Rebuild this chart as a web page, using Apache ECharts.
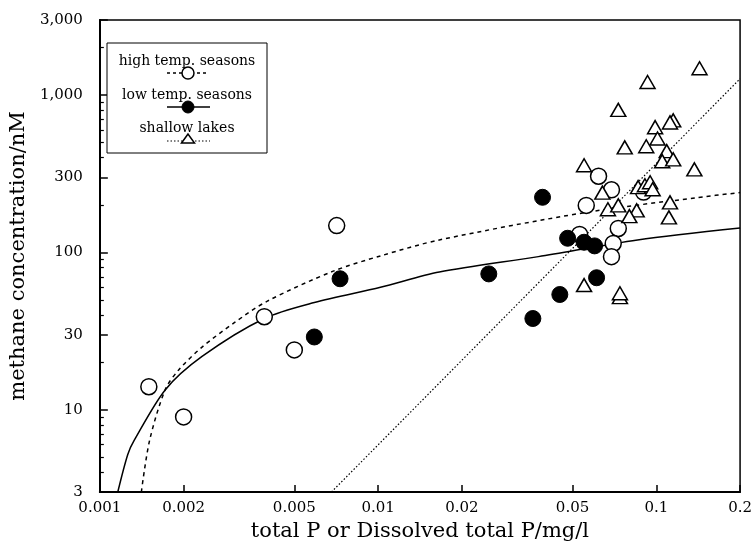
<!DOCTYPE html>
<html>
<head>
<meta charset="UTF-8">
<title>methane vs P</title>
<script src="https://cdn.jsdelivr.net/npm/echarts@6/dist/echarts.min.js"></script>
<style>
  html, body { margin: 0; padding: 0; background: #fff; }
  #main { width: 755px; height: 548px; }
</style>
</head>
<body>
<div id="main"></div>
<script>
  // axis ticks
  var xTicks = [0.001, 0.002, 0.005, 0.01, 0.02, 0.05, 0.1, 0.2];
  var xTickLabels = ['0.001', '0.002', '0.005', '0.01', '0.02', '0.05', '0.1', '0.2'];
  var yTicks = [3, 10, 30, 100, 300, 1000, 3000];
  var yTickLabels = ['3', '10', '30', '100', '300', '1,000', '3,000'];
  var yMinorTicks = [4, 5, 6, 7, 8, 9, 20, 40, 50, 60, 70, 80, 90, 200, 400, 500, 600, 700, 800, 900, 2000];

  // [total P mg/l, methane nM]
  var highTemp = [
    [0.0015, 14], [0.002, 9], [0.0039, 39], [0.005, 24], [0.0071, 148],
    [0.056, 199], [0.062, 305], [0.069, 250], [0.053, 130], [0.073, 142],
    [0.070, 114], [0.069, 94], [0.090, 242]
  ];
  var lowTemp = [
    [0.0059, 29], [0.0073, 68], [0.025, 73], [0.036, 38], [0.039, 224],
    [0.045, 54], [0.048, 123], [0.055, 116], [0.060, 110], [0.061, 69]
  ];
  var shallowLakes = [
    [0.143, 1480], [0.093, 1210], [0.073, 805], [0.115, 690], [0.112, 670],
    [0.099, 625], [0.101, 530], [0.077, 465], [0.092, 473], [0.109, 440],
    [0.105, 380], [0.115, 390], [0.137, 337], [0.055, 358], [0.064, 240],
    [0.067, 188], [0.073, 199], [0.086, 260], [0.091, 267], [0.095, 279],
    [0.097, 252], [0.085, 185], [0.080, 170], [0.112, 208], [0.111, 167],
    [0.055, 62], [0.074, 52], [0.074, 55]
  ];

  // fitted curves
  var highTempFit = [
    [0.00141, 3], [0.00151, 6.4], [0.00172, 13.5], [0.00192, 17.9], [0.00233, 25],
    [0.00306, 36], [0.0040, 49], [0.0069, 76], [0.0102, 95], [0.0166, 120],
    [0.0553, 179], [0.14, 223], [0.2, 240]
  ];
  var lowTempFit = [
    [0.00116, 3], [0.00126, 5.2], [0.00133, 6.4], [0.00172, 13.4], [0.00233, 21.8],
    [0.0039, 38], [0.0059, 48], [0.0102, 60], [0.0166, 75], [0.0377, 94],
    [0.0856, 120], [0.2, 143]
  ];
  var shallowFit = [[0.0068, 3], [0.057, 134], [0.2, 1270]];

  var serif = '"DejaVu Serif", serif';

  function pickLabel(ticks, labels) {
    return function (v) {
      for (var i = 0; i < ticks.length; i++) {
        if (Math.abs(v / ticks[i] - 1) < 1e-6) return labels[i];
      }
      return '';
    };
  }

  var myChart = echarts.init(document.getElementById('main'));

  var option = {
    animation: false,
    backgroundColor: '#fff',
    grid: {
      left: 97, right: 12, top: 20, bottom: 56,
      show: true, borderColor: '#000', borderWidth: 1.5, backgroundColor: 'transparent'
    },
    xAxis: [{
      type: 'log', logBase: 10, min: 0.001, max: 0.2,
      name: 'total P or Dissolved total P/mg/l',
      nameLocation: 'middle', nameGap: 28,
      nameTextStyle: { color: '#000', fontFamily: serif, fontSize: 21 },
      axisLine: { lineStyle: { color: '#000', width: 2 } },
      axisTick: { inside: true, length: 7, customValues: xTicks, lineStyle: { color: '#000', width: 1.5 } },
      axisLabel: {
        customValues: xTicks, formatter: pickLabel(xTicks, xTickLabels),
        color: '#000', fontFamily: serif, fontSize: 15, margin: 9
      },
      splitLine: { show: false },
      minorTick: { show: false }
    }],
    yAxis: [{
      type: 'log', logBase: 10, min: 3, max: 3000, position: 'left',
      name: 'methane concentration/nM',
      nameLocation: 'middle', nameGap: 58,
      nameTextStyle: { color: '#000', fontFamily: serif, fontSize: 21 },
      axisLine: { lineStyle: { color: '#000', width: 2 } },
      axisTick: { inside: true, length: 8, customValues: yTicks, lineStyle: { color: '#000', width: 1.5 } },
      axisLabel: {
        customValues: yTicks, formatter: pickLabel(yTicks, yTickLabels),
        color: '#000', fontFamily: serif, fontSize: 15, margin: 17
      },
      splitLine: { show: false }
    }, {
      // minor ticks only
      type: 'log', logBase: 10, min: 3, max: 3000, position: 'left',
      axisLine: { show: false },
      axisTick: { inside: true, length: 4, customValues: yMinorTicks, lineStyle: { color: '#000', width: 1.2 } },
      axisLabel: { show: false },
      splitLine: { show: false }
    }],
    series: [
      {
        name: 'high temp fit', type: 'line', data: highTempFit, smooth: 0.3,
        showSymbol: false, symbol: 'none', silent: true,
        lineStyle: { color: '#000', width: 1.5, type: [4, 4] }, z: 2
      },
      {
        name: 'low temp fit', type: 'line', data: lowTempFit, smooth: 0.3,
        showSymbol: false, symbol: 'none', silent: true,
        lineStyle: { color: '#000', width: 1.5 }, z: 2
      },
      {
        name: 'shallow fit', type: 'line', data: shallowFit,
        showSymbol: false, symbol: 'none', silent: true,
        lineStyle: { color: '#000', width: 1.2, type: [1.5, 2] }, z: 2
      },
      {
        name: 'high temp. seasons', type: 'scatter', data: highTemp,
        symbol: 'circle', symbolSize: 16,
        itemStyle: { color: '#fff', borderColor: '#000', borderWidth: 1.5, opacity: 1 }, z: 3
      },
      {
        name: 'low temp. seasons', type: 'scatter', data: lowTemp,
        symbol: 'circle', symbolSize: 16,
        itemStyle: { color: '#000', borderColor: '#000', borderWidth: 1, opacity: 1 }, z: 4
      },
      {
        name: 'shallow lakes', type: 'scatter', data: shallowLakes,
        symbol: 'triangle', symbolSize: [15, 13],
        itemStyle: { color: '#fff', borderColor: '#000', borderWidth: 1.5, opacity: 1 }, z: 5
      }
    ],
    graphic: [
      { type: 'rect', shape: { x: 107, y: 43, width: 160, height: 110 },
        style: { fill: '#fff', stroke: '#000', lineWidth: 1 }, z: 10 },
      { type: 'text', x: 187, y: 61, z: 11,
        style: { text: 'high temp. seasons', font: '14px "DejaVu Serif"', fill: '#000', align: 'center', verticalAlign: 'middle' } },
      { type: 'line', shape: { x1: 167, y1: 73, x2: 208, y2: 73 }, z: 11,
        style: { stroke: '#000', lineWidth: 1.5, lineDash: [3, 3] } },
      { type: 'circle', shape: { cx: 188, cy: 73, r: 6 }, z: 12,
        style: { fill: '#fff', stroke: '#000', lineWidth: 1.5 } },
      { type: 'text', x: 187, y: 95, z: 11,
        style: { text: 'low temp. seasons', font: '14px "DejaVu Serif"', fill: '#000', align: 'center', verticalAlign: 'middle' } },
      { type: 'line', shape: { x1: 167, y1: 107, x2: 210, y2: 107 }, z: 11,
        style: { stroke: '#000', lineWidth: 1.5 } },
      { type: 'circle', shape: { cx: 188, cy: 107, r: 6 }, z: 12,
        style: { fill: '#000', stroke: '#000', lineWidth: 1 } },
      { type: 'text', x: 187, y: 128, z: 11,
        style: { text: 'shallow lakes', font: '14px "DejaVu Serif"', fill: '#000', align: 'center', verticalAlign: 'middle' } },
      { type: 'line', shape: { x1: 167, y1: 141, x2: 210, y2: 141 }, z: 11,
        style: { stroke: '#000', lineWidth: 1.2, lineDash: [1.5, 2] } },
      { type: 'polygon', shape: { points: [[188, 134], [181.5, 143], [194.5, 143]] }, z: 12,
        style: { fill: '#fff', stroke: '#000', lineWidth: 1.5 } }
    ]
  };

  myChart.setOption(option);
</script>
</body>
</html>
